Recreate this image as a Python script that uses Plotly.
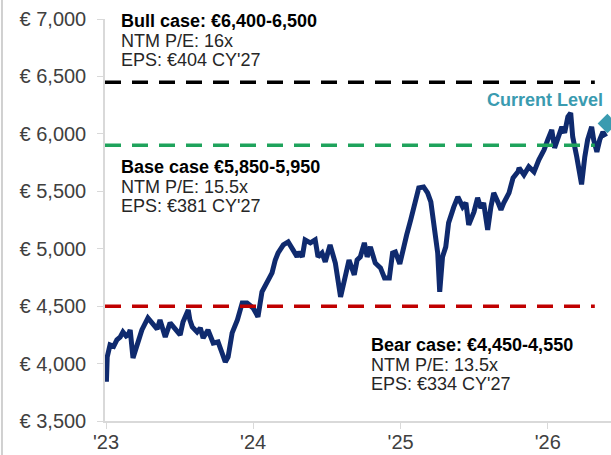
import plotly.graph_objects as go

dates = [
    "2023-01-02", "2023-01-04", "2023-01-11", "2023-01-20", "2023-01-28", "2023-02-05", "2023-02-12",
    "2023-02-20", "2023-02-25", "2023-03-02", "2023-03-09", "2023-03-13", "2023-03-19", "2023-03-31",
    "2023-04-15", "2023-04-28", "2023-05-08", "2023-05-15", "2023-05-28", "2023-06-09", "2023-06-21",
    "2023-07-04", "2023-07-11", "2023-07-24", "2023-07-28", "2023-08-03", "2023-08-15", "2023-08-23",
    "2023-08-30", "2023-09-11", "2023-09-24", "2023-10-06", "2023-10-16", "2023-10-24", "2023-10-31",
    "2023-11-10", "2023-11-23", "2023-12-05", "2023-12-17", "2024-01-01", "2024-01-08", "2024-01-13",
    "2024-01-23", "2024-02-05", "2024-02-17", "2024-02-25", "2024-03-03", "2024-03-16", "2024-03-28",
    "2024-04-09", "2024-04-19", "2024-04-24", "2024-05-02", "2024-05-09", "2024-05-22", "2024-06-03",
    "2024-06-10", "2024-06-20", "2024-06-28", "2024-07-10", "2024-07-23", "2024-08-05", "2024-08-14",
    "2024-08-26", "2024-09-08", "2024-09-15", "2024-09-23", "2024-10-03", "2024-10-10", "2024-10-18",
    "2024-10-30", "2024-11-12", "2024-11-22", "2024-12-04", "2024-12-12", "2024-12-19", "2024-12-30",
    "2025-01-06", "2025-01-16", "2025-01-26", "2025-02-07", "2025-02-15", "2025-02-27", "2025-03-09",
    "2025-03-17", "2025-03-24", "2025-04-03", "2025-04-08", "2025-04-15", "2025-04-23", "2025-04-30",
    "2025-05-13", "2025-05-23", "2025-06-04", "2025-06-12", "2025-06-19", "2025-07-02", "2025-07-11",
    "2025-07-19", "2025-07-26", "2025-08-05", "2025-08-13", "2025-08-20", "2025-08-30", "2025-09-07",
    "2025-09-14", "2025-09-27", "2025-10-07", "2025-10-19", "2025-10-22", "2025-11-03", "2025-11-15",
    "2025-11-28", "2025-12-10", "2025-12-23", "2026-01-01", "2026-01-11", "2026-01-18", "2026-01-26",
    "2026-02-05", "2026-02-12", "2026-02-20", "2026-02-27", "2026-03-04", "2026-03-14", "2026-03-22",
    "2026-03-26", "2026-04-03", "2026-04-10", "2026-04-20", "2026-04-25", "2026-05-03", "2026-05-10",
    "2026-05-18", "2026-05-25",
]
index_level = [
    3842, 4058, 4162, 4150, 4206, 4230, 4275,
    4240, 4249, 4293, 4049, 4100, 4145, 4293,
    4397, 4336, 4300, 4380, 4232, 4354, 4310,
    4249, 4362, 4467, 4380, 4319, 4275, 4310,
    4223, 4293, 4179, 4188, 4092, 4014, 4058,
    4267, 4380, 4528, 4528, 4484, 4441, 4406,
    4624, 4702, 4789, 4902, 4963, 5033, 5059,
    4990, 4930, 4972, 4929, 5077, 5051, 5077,
    4929, 4963, 4885, 5033, 4876, 4580, 4728,
    4902, 4772, 4902, 4929, 5051, 4929, 5016,
    4876, 4833, 4746, 4746, 4963, 4972, 4868,
    4990, 5120, 5251, 5425, 5530, 5538, 5486,
    5408, 5225, 4963, 4624, 4929, 5016, 5225,
    5364, 5451, 5364, 5399, 5207, 5321, 5443,
    5355, 5399, 5164, 5364, 5486, 5408, 5338,
    5399, 5486, 5617, 5669, 5704, 5643, 5713,
    5669, 5774, 5861, 5948, 6035, 5878, 5974,
    6061, 6009, 6148, 6183, 5974, 5800, 5625,
    5560, 5800, 5948, 6061, 5948, 5843, 5948,
    6017, 5974,
]

current_date = ["2026-05-29"]
current_level = [6090]

scenario_levels = [6450, 5900, 4500]
scenario_colors = ["#000000", "#1fa35c", "#c00000"]

y_tickvals = [3500, 4000, 4500, 5000, 5500, 6000, 6500, 7000]
y_ticktext = ["€ 3,500", "€ 4,000", "€ 4,500", "€ 5,000", "€ 5,500", "€ 6,000", "€ 6,500", "€ 7,000"]
x_tickvals = ["2023-01-01", "2024-01-01", "2025-01-01", "2026-01-01"]
x_ticktext = ["'23", "'24", "'25", "'26"]

FONT = "Arial, Liberation Sans, sans-serif"
NAVY = "#0f2a6e"
TEAL = "#3a9bb0"

fig = go.Figure()
fig.add_trace(go.Scatter(x=dates, y=index_level, mode="lines",
                         line=dict(color=NAVY, width=5), showlegend=False))
fig.add_trace(go.Scatter(x=current_date, y=current_level, mode="markers",
                         marker=dict(symbol="diamond", size=15, color=TEAL),
                         showlegend=False))

for lvl, col in zip(scenario_levels, scenario_colors):
    fig.add_shape(type="line", xref="paper", yref="y", x0=0, x1=0.968, y0=lvl, y1=lvl,
                  line=dict(color=col, width=3.5, dash="16px,11px"), layer="above")

# left frame line
fig.add_shape(type="line", xref="paper", yref="paper", x0=-0.2036, x1=-0.2036,
              y0=-0.09, y1=1.05, line=dict(color="#d0d0d0", width=2))

def txt(x, y, text, bold=False, color="#262626", anchor="left", size=18):
    fig.add_annotation(xref="paper", yref="paper", x=x, y=y, text=(f"<b>{text}</b>" if bold else text),
                       showarrow=False, xanchor=anchor, yanchor="middle",
                       font=dict(family=FONT, size=size, color=color))

txt(0.028, 0.995, "Bull case: €6,400-6,500", bold=True, color="#000000")
txt(0.028, 0.945, "NTM P/E: 16x")
txt(0.028, 0.898, "EPS: €404 CY'27")
txt(0.028, 0.632, "Base case €5,850-5,950", bold=True, color="#000000")
txt(0.028, 0.582, "NTM P/E: 15.5x")
txt(0.028, 0.535, "EPS: €381 CY'27")
txt(0.522, 0.189, "Bear case: €4,450-4,550", bold=True, color="#000000")
txt(0.522, 0.139, "NTM P/E: 13.5x")
txt(0.522, 0.092, "EPS: €334 CY'27")
txt(0.988, 0.7985, "Current Level", bold=True, color=TEAL, anchor="right")

fig.update_layout(
    width=611, height=455,
    margin=dict(l=105, r=0, t=19, b=34, autoexpand=False),
    paper_bgcolor="white", plot_bgcolor="white",
    font=dict(family=FONT, size=20, color="#404040"),
    showlegend=False,
)
fig.update_xaxes(range=["2022-12-29T12:00", "2026-06-07"], tickvals=x_tickvals, ticktext=x_ticktext,
                 showgrid=False, zeroline=False, showline=True, linecolor="#d9d9d9", linewidth=1.5,
                 ticks="outside", ticklen=6, tickcolor="#d9d9d9", automargin=False,
                 ticklabelstandoff=-4, tickfont=dict(size=20, color="#404040"))
fig.update_yaxes(range=[3500, 7000], tickvals=y_tickvals, ticktext=y_ticktext,
                 showgrid=False, zeroline=False, showline=True, linecolor="#d9d9d9", linewidth=1.5,
                 ticks="outside", ticklen=6, tickcolor="#d9d9d9", ticklabelstandoff=7, automargin=False,
                 tickfont=dict(size=20, color="#404040"))

fig.write_html("out.html", config={"displayModeBar": False},
               post_script="document.body.style.margin='0';document.body.style.overflow='hidden';")
